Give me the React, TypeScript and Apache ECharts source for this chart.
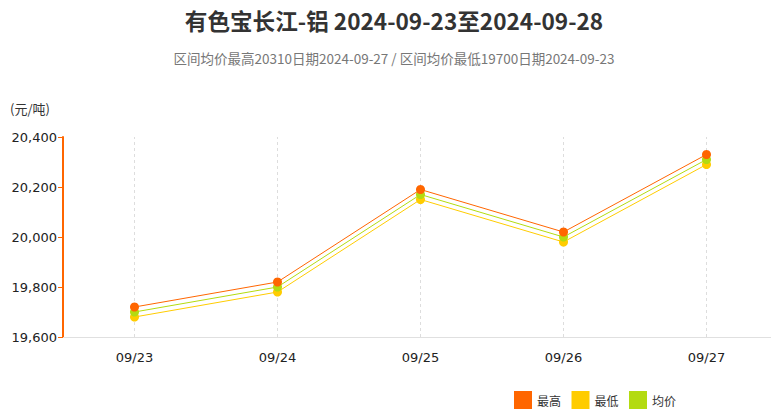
import React, { useEffect, useRef } from "react";
import * as echarts from "echarts";

const categories = ["09/23", "09/24", "09/25", "09/26", "09/27"];
const highValues = [19720, 19820, 20190, 20020, 20330];
const lowValues = [19680, 19780, 20150, 19980, 20290];
const avgValues = [19700, 19800, 20170, 20000, 20310];
const seriesNames = ["最高", "最低", "均价"];
const colors = ["#FF6600", "#FFCC00", "#B3DB11"];
const titleText = "有色宝长江-铝 2024-09-23至2024-09-28";
const subText = "区间均价最高20310日期2024-09-27 / 区间均价最低19700日期2024-09-23";
const unitText = "(元/吨)";

export default function App() {
  const ref = useRef<HTMLDivElement>(null);
  useEffect(() => {
    if (!ref.current) return;
    const chart = echarts.init(ref.current, null, { renderer: "svg" });
    const font = "Verdana, 'DejaVu Sans', 'Noto Sans CJK SC', sans-serif";
    const mk = (i: number, data: number[], z: number) => ({
      name: seriesNames[i],
      type: "line",
      data,
      z,
      symbol: "circle",
      symbolSize: 9,
      itemStyle: { color: colors[i] },
      lineStyle: { color: colors[i], width: 1 },
    });
    chart.setOption({
      animation: false,
      color: colors,
      title: {
        text: titleText,
        subtext: subText,
        left: "center",
        top: 4,
        itemGap: 20,
        textStyle: {
          fontFamily: "'Noto Sans CJK SC', sans-serif",
          fontSize: 22.6,
          fontWeight: "bold",
          color: "#333",
        },
        subtextStyle: {
          fontFamily: "'Noto Sans CJK SC', sans-serif",
          fontSize: 13.5,
          color: "#777",
        },
      },
      graphic: [
        {
          type: "text",
          left: 10,
          top: 102,
          style: {
            text: unitText,
            font: "13px 'Noto Sans CJK SC', sans-serif",
            fill: "#333",
          },
        },
      ],
      legend: {
        left: 514,
        top: 391,
        padding: 0,
        itemWidth: 18,
        itemHeight: 18,
        itemGap: 10.5,
        icon: "rect",
        textStyle: { fontFamily: "'Noto Sans CJK SC', sans-serif", fontSize: 12, color: "#333" },
        data: seriesNames,
      },
      grid: { left: 63, top: 137, right: 10, height: 200, containLabel: false },
      xAxis: {
        type: "category",
        data: categories,
        boundaryGap: true,
        axisLine: { lineStyle: { color: "#e0e0e0", width: 1 } },
        axisTick: {
          show: true,
          alignWithLabel: true,
          inside: true,
          length: 200,
          lineStyle: { color: "#dddddd", type: [3, 3], width: 1 },
        },
        splitLine: { show: false },
        axisLabel: { margin: 14, fontSize: 13, color: "#222", fontFamily: font },
      },
      yAxis: {
        type: "value",
        min: 19600,
        max: 20400,
        interval: 200,
        axisLine: { show: true, lineStyle: { color: "#FF6600", width: 2 } },
        axisTick: { show: true, length: 5, lineStyle: { color: "#FF6600", width: 1 } },
        splitLine: { show: false },
        axisLabel: {
          margin: 6,
          fontSize: 13,
          color: "#222",
          fontFamily: font,
          formatter: (v: number) => v.toLocaleString("en-US"),
        },
      },
      series: [mk(0, highValues, 4), mk(1, lowValues, 2), mk(2, avgValues, 3)],
    });
    return () => chart.dispose();
  }, []);
  return (
    <div
      ref={ref}
      style={{ position: "fixed", left: 0, top: 0, width: 788, height: 414, background: "#fff" }}
    />
  );
}
